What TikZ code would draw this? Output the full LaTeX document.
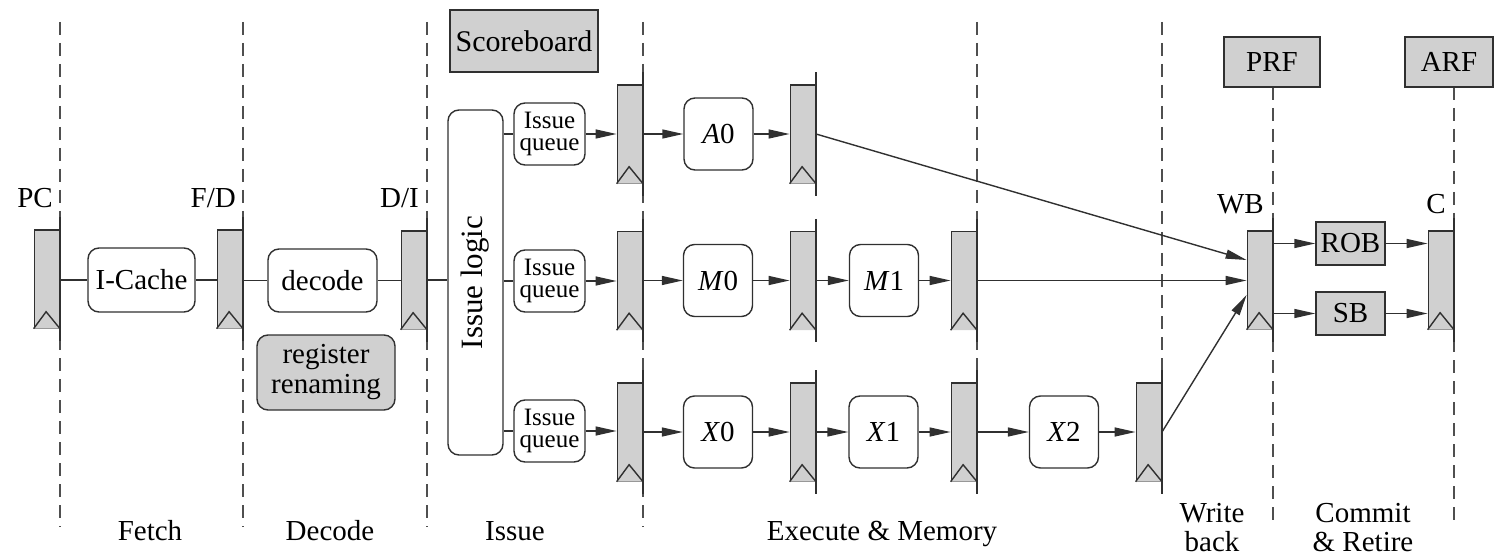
\documentclass[tikz,border=0pt]{standalone}
\usepackage{fontspec}
\setmainfont{Liberation Serif}
\usetikzlibrary{arrows.meta}
\definecolor{regfill}{HTML}{D0D0D0}
\definecolor{ink}{HTML}{303030}

% pipeline register: name, x of right edge, y of centre
\newcommand\pipereg[3]{%
  \node[regbox, anchor=east] (#1) at (#2,#3) {};
  \draw[wire, fill=regfill] (#1.south west) -- ++(12.5,-17) -- (#1.south east);
  \draw[wire] ([yshift=12pt]#1.north east) -- ([yshift=-12pt]#1.south east);
}

\begin{document}
\begin{tikzpicture}[x=1pt, y=-1pt,
  txt/.style={font=\fontsize{29}{29}\selectfont, inner sep=0pt},
  wire/.style={draw=ink, line width=1.4pt},
  regbox/.style={draw=ink, fill=regfill, line width=1.4pt,
    minimum width=25pt, minimum height=98pt, inner sep=0pt},
  unit/.style={txt, draw=ink, fill=white, rounded corners=11pt, line width=1.4pt,
    minimum width=69pt, minimum height=72pt, align=center},
  queue/.style={unit, minimum width=71pt, minimum height=62pt,
    font=\fontsize{25}{22}\selectfont},
  store/.style={txt, draw=ink, fill=regfill, line width=1.4pt, align=center},
  arr/.style={wire, -{Triangle[length=21pt, width=9pt]}},
  stage/.style={draw=ink!85, line width=1.5pt, dash pattern=on 13pt off 8pt},
]
\useasboundingbox (0,0) rectangle (1494,556);

% stage boundaries
\foreach \sx in {60,243,427,643} \draw[stage] (\sx,22) -- (\sx,527);
\foreach \sx in {977,1162} \draw[stage] (\sx,22) -- (\sx,483);
\foreach \sx in {1273,1454} \draw[stage] (\sx,87) -- (\sx,527);

% shared storage
\node[store, minimum width=148pt, minimum height=62pt, font=\fontsize{30}{30}\selectfont]
  (sb) at (524,41) {Scoreboard};
\node[store, minimum width=96pt, minimum height=50pt] (prf) at (1272,62) {PRF};
\node[store, minimum width=88pt, minimum height=50pt] (arf) at (1449,62) {ARF};

% front end
\pipereg{pc}{60}{279}
\pipereg{fd}{243}{279}
\pipereg{di}{427}{280}
\node[unit, minimum width=107pt, minimum height=64pt] (icache) at (141.5,280) {I-Cache};
\node[unit, minimum width=109pt, minimum height=63pt] (decode) at (322.5,280.5) {decode};
\node[unit, fill=regfill, minimum width=138pt, minimum height=75pt,
  font=\fontsize{29}{30}\selectfont] (rename) at (326,372.5) {register\\renaming};

\draw[wire] (pc.east |- icache.west) -- (icache.west);
\draw[wire] (icache.east) -- (fd.west |- icache.east);
\draw[wire] (fd.east |- decode.west) -- (decode.west);
\draw[wire] (decode.east) -- (di.west |- decode.east);

% issue
\node[unit, minimum width=55pt, minimum height=345pt] (logic) at (475.5,282.5) {};
\node[txt, rotate=90, font=\fontsize{31}{31}\selectfont] (logictext) at (logic.center) {Issue logic};
\draw[wire] (di.east) -- (logic.west |- di.east);

\node[queue] (iqa) at (549.5,134) {Issue\\queue};
\node[queue] (iqb) at (549.5,281) {Issue\\queue};
\node[queue] (iqc) at (549.5,431) {Issue\\queue};
\foreach \q in {iqa,iqb,iqc} \draw[wire] (logic.east |- \q.west) -- (\q.west);

% execute rows
\pipereg{ra}{643}{134}
\pipereg{rb}{643}{280.5}
\pipereg{rc}{643}{432}
\pipereg{sa}{816}{134}
\pipereg{sb2}{816}{280.5}
\pipereg{sc}{816}{432}
\pipereg{tb}{977}{280.5}
\pipereg{tc}{977}{432}
\pipereg{uc}{1162}{432}

\node[unit] (a0) at (718.5,134) {\textit{A}0};
\node[unit] (m0) at (718,280.5) {\textit{M}0};
\node[unit] (m1) at (884,280.5) {\textit{M}1};
\node[unit] (x0) at (718,432) {\textit{X}0};
\node[unit] (x1) at (883.5,432) {\textit{X}1};
\node[unit] (x2) at (1064,432) {\textit{X}2};

\draw[arr] (iqa.east) -- (ra.west |- iqa.east);
\draw[arr] (ra.east) -- (a0.west |- ra.east);
\draw[arr] (a0.east) -- (sa.west |- a0.east);

\draw[arr] (iqb.east) -- (rb.west |- iqb.east);
\draw[arr] (rb.east) -- (m0.west |- rb.east);
\draw[arr] (m0.east) -- (sb2.west |- m0.east);
\draw[arr] (sb2.east) -- (m1.west |- sb2.east);
\draw[arr] (m1.east) -- (tb.west |- m1.east);

\draw[arr] (iqc.east) -- (rc.west |- iqc.east);
\draw[arr] (rc.east) -- (x0.west |- rc.east);
\draw[arr] (x0.east) -- (sc.west |- x0.east);
\draw[arr] (sc.east) -- (x1.west |- sc.east);
\draw[arr] (x1.east) -- (tc.west |- x1.east);
\draw[arr] (tc.east) -- (x2.west |- tc.east);
\draw[arr] (x2.east) -- (uc.west |- x2.east);

% write back, commit
\pipereg{wb}{1273}{280}
\pipereg{cm}{1454}{280}
\node[store, minimum width=69pt, minimum height=43pt] (rob) at (1350.5,243.5) {ROB};
\node[store, minimum width=69pt, minimum height=43pt] (sbuf) at (1350.5,313.5) {SB};

\draw[arr] (sa.east) -- ([yshift=20pt]wb.west);
\draw[arr] (tb.east) -- (wb.west |- tb.east);
\draw[arr] (uc.east) -- ([yshift=-15pt]wb.west);

\draw[arr] (wb.east |- rob.west) -- (rob.west);
\draw[arr] (rob.east) -- (cm.west |- rob.east);
\draw[arr] (wb.east |- sbuf.west) -- (sbuf.west);
\draw[arr] (sbuf.east) -- (cm.west |- sbuf.east);

% register names
\node[txt, anchor=base east] (pcname) at (53,208) {PC};
\node[txt, anchor=base east] (fdname) at (236,208) {F/D};
\node[txt, anchor=base east] (diname) at (419,208) {D/I};
\node[txt, anchor=base east] (wbname) at (1264,214) {WB};
\node[txt, anchor=base east] (cmname) at (1446,214) {C};

% stage names
\node[txt, anchor=base] (fetch) at (150,540) {Fetch};
\node[txt, anchor=base] (dec) at (330,540) {Decode};
\node[txt, anchor=base] (iss) at (515,540) {Issue};
\node[txt, anchor=base] (exe) at (882,540) {Execute \& Memory};
\node[txt, align=center] (wback) at (1212,528) {Write\\back};
\node[txt, align=center] (commit) at (1363,528) {Commit\\\& Retire};
\end{tikzpicture}
\end{document}
